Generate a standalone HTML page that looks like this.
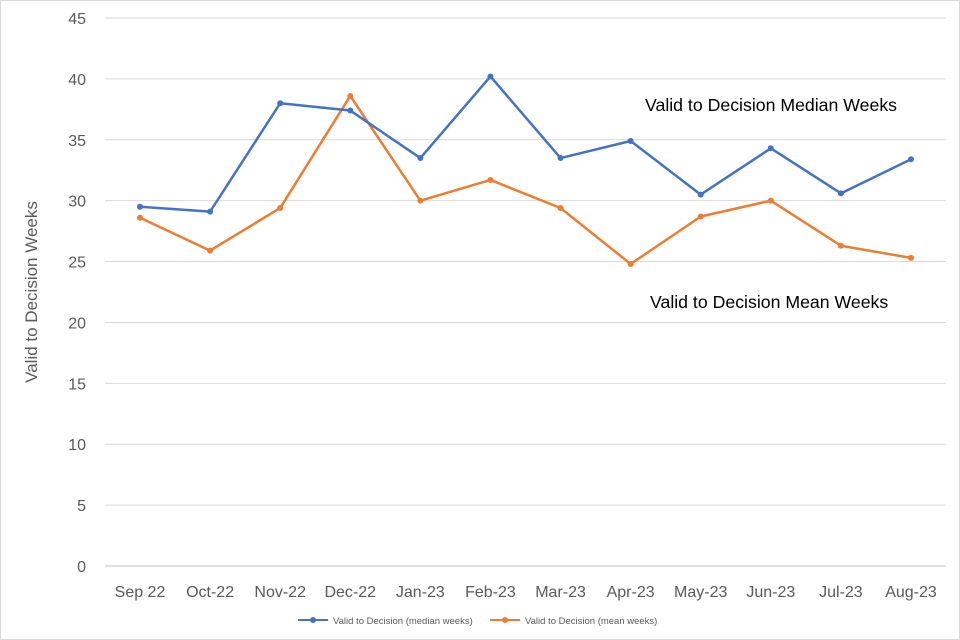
<!DOCTYPE html>
<html><head><meta charset="utf-8"><style>
html,body{margin:0;padding:0;background:#fff}
svg{display:block;font-family:"Liberation Sans",Arial,sans-serif}
</style></head><body>
<svg id="chart" width="960" height="640">
<rect x="0.5" y="0.5" width="959" height="639" fill="#fff" stroke="#d9d9d9"/>
<g id="grid"></g><g id="series"></g><g id="labels"></g>
<text x="0" y="0" transform="translate(37,292) rotate(-90)" text-anchor="middle" font-size="17" fill="#595959">Valid to Decision Weeks</text>
<text x="645" y="111" font-size="17.7" fill="#000">Valid to Decision Median Weeks</text>
<text x="650" y="308" font-size="17.7" fill="#000">Valid to Decision Mean Weeks</text>
<g>
<g>
<line x1="298" y1="620" x2="328" y2="620" stroke="#4472C4" stroke-width="2"/><circle cx="313" cy="620" r="3" fill="#4472C4"/>
<text x="333" y="624" font-size="9.5" fill="#595959">Valid to Decision (median weeks)</text></g>
<g>
<line x1="490" y1="620" x2="520" y2="620" stroke="#ED7D31" stroke-width="2"/><circle cx="505" cy="620" r="3" fill="#ED7D31"/>
<text x="525" y="624" font-size="9.5" fill="#595959">Valid to Decision (mean weeks)</text></g>
</g>
</svg>
<script>
const categories=["Sep 22","Oct-22","Nov-22","Dec-22","Jan-23","Feb-23","Mar-23","Apr-23","May-23","Jun-23","Jul-23","Aug-23"];
const medianWeeks=[29.5,29.1,38.0,37.4,33.5,40.2,33.5,34.9,30.5,34.3,30.6,33.4];
const meanWeeks=[28.6,25.9,29.4,38.6,30.0,31.7,29.4,24.8,28.7,30.0,26.3,25.3];
const yTicks=[0,5,10,15,20,25,30,35,40,45];
const NS="http://www.w3.org/2000/svg";
const x0=140,x1=911,yBase=566,yTop=18,yMax=45;
function xs(i){return x0+i*(x1-x0)/(categories.length-1);}
function ys(v){return yBase-v*(yBase-yTop)/yMax;}
function mk(t,a,p){const e=document.createElementNS(NS,t);for(const k in a)e.setAttribute(k,a[k]);p.appendChild(e);return e;}
const grid=document.getElementById('grid'),ser=document.getElementById('series'),lab=document.getElementById('labels');
yTicks.forEach(v=>{
 const l=mk('line',{x1:105,x2:946,y1:ys(v),y2:ys(v),stroke:v===0?'#bfbfbf':'#d9d9d9','stroke-width':1},grid);
 
 
 const t=mk('text',{x:86,y:ys(v)+6,'text-anchor':'end','font-size':16,fill:'#595959'},lab);
 t.textContent=v;
 
 
});
categories.forEach((c,i)=>{
 const t=mk('text',{x:xs(i),y:597,'text-anchor':'middle','font-size':16,fill:'#595959'},lab);
 t.textContent=c;
 
 
});
function draw(vals,color,name){
 const pl=mk('polyline',{points:vals.map((v,i)=>xs(i)+','+ys(v)).join(' '),fill:'none',stroke:color,'stroke-width':2.5,'stroke-linejoin':'round'},ser);
 
 
 vals.forEach((v,i)=>{
  const c=mk('circle',{cx:xs(i),cy:ys(v),r:3,fill:color},ser);
  
  
 });
}
draw(meanWeeks,'#ED7D31','mean');
draw(medianWeeks,'#4472C4','median');
</script>
</body></html>
